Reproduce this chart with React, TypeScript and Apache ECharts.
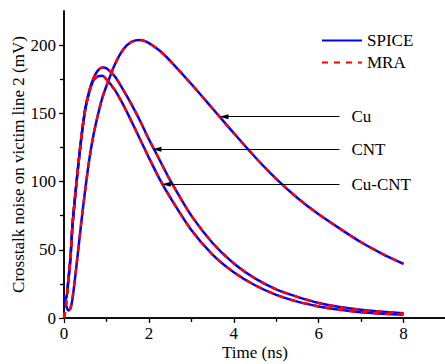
import React, { useEffect, useRef } from "react";
import * as echarts from "echarts";

// Time axis (ns), shared by all curves
const timeNs = [0, 0.05, 0.1, 0.15, 0.2, 0.3, 0.4, 0.5, 0.6, 0.7, 0.8, 0.9, 1.0, 1.2, 1.4, 1.6, 1.8, 2.0, 2.25, 2.5, 3, 3.5, 4, 4.5, 5, 5.5, 6, 6.5, 7, 7.5, 8];

// Crosstalk noise (mV)
const cuSpice = [16, 9, 5.5, 7, 14, 40, 68, 94, 117, 135, 149, 161, 170, 186, 197, 202.5, 203.7, 201.5, 196, 188.5, 171.5, 153.5, 135.5, 118, 102, 88, 76, 65.5, 55.5, 47, 39.6];
const cuMra = [0, 6, 5.5, 7, 14, 40, 68, 94, 117, 135, 149, 161, 170, 186, 197, 202.5, 203.7, 201.5, 196, 188.5, 171.5, 153.5, 135.5, 118, 102, 88, 76, 65.5, 55.5, 47, 39.6];
const cntSpice = [15, 14, 27, 43, 68, 101, 130, 153, 167, 176, 181.5, 183.6, 183, 177, 167, 156, 144, 131, 116, 101, 75, 55, 40, 29, 21, 15.5, 11, 8, 6, 4.5, 3.4];
const cntMra = [0, 10, 27, 43, 68, 101, 130, 153, 167, 176, 181.5, 183.6, 183, 177, 167, 156, 144, 131, 116, 101, 75, 55, 40, 29, 21, 15.5, 11, 8, 6, 4.5, 3.4];
const cuCntSpice = [15, 14, 27, 43, 68, 101, 130, 153, 166, 174.5, 177, 177.5, 175, 167, 156, 143.5, 130.5, 117.5, 102, 88.5, 64.5, 46.5, 33.5, 24, 17, 12, 8.5, 6, 4.3, 3.2, 2.3];
const cuCntMra = [0, 10, 27, 43, 68, 101, 130, 153, 166, 174.5, 177, 177.5, 175, 167, 156, 143.5, 130.5, 117.5, 102, 88.5, 64.5, 46.5, 33.5, 24, 17, 12, 8.5, 6, 4.3, 3.2, 2.3];

// Ticks
const xMajorTicks = [0, 2, 4, 6, 8];
const xMinorTicks = [1, 3, 5, 7];
const xTopTicks = [1, 2, 3, 4, 5, 6, 7, 8];
const yMajorTicks = [0, 50, 100, 150, 200];
const yMinorTicks = [25, 75, 125, 175];
const yRightTicks = [25, 50, 75, 100, 125, 150, 175, 200];

// Annotations
const annotationLabels = ["Cu", "CNT", "Cu-CNT"];
const annotationValues = [147.5, 123.6, 98];
const annotationEnds = [3.77, 2.19, 2.41];
const annotationStart = 6.49;

const FONT = '"Liberation Serif", "Times New Roman", serif';

const pairs = (ys: number[]) => timeNs.map((t, i) => [t, ys[i]]);

export default function App() {
  const ref = useRef<HTMLDivElement>(null);
  useEffect(() => {
    if (!ref.current) return;
    const chart = echarts.init(ref.current, undefined, { renderer: "svg" });
    const blue = "#0000ff";
    const red = "#ff0000";
    const spice = (d: number[]) => ({
      type: "line",
      name: "SPICE",
      data: pairs(d),
      symbol: "none",
      smooth: 0.25,
      lineStyle: { color: blue, width: 2.5 },
      itemStyle: { color: blue },
      z: 2,
    });
    const mra = (d: number[]) => ({
      type: "line",
      name: "MRA",
      data: pairs(d),
      symbol: "none",
      smooth: 0.25,
      lineStyle: { color: red, width: 2.5, type: [6, 6] },
      itemStyle: { color: red },
      z: 3,
    });
    const axisLineStyle = { color: "#000", width: 1.5 };
    const tickStyle = { color: "#000", width: 1.2 };
    chart.setOption({
      animation: false,
      backgroundColor: "#fff",
      textStyle: { fontFamily: FONT, color: "#000" },
      grid: { left: 64, top: 11, width: 382, height: 307, containLabel: false, outerBoundsMode: "none" },
      legend: {
        data: ["SPICE", "MRA"],
        orient: "vertical",
        left: 321,
        top: 32,
        padding: 0,
        itemWidth: 40,
        itemHeight: 14,
        itemGap: 5,
        itemStyle: { opacity: 0 },
        textStyle: { fontSize: 17, color: "#000", fontFamily: FONT },
      },
      xAxis: [
        {
          type: "value",
          position: "bottom",
          min: 0,
          max: 9,
          interval: 1,
          axisLine: { show: true, lineStyle: axisLineStyle },
          axisTick: { show: true, customValues: xMajorTicks, length: 5, lineStyle: tickStyle },
          axisLabel: { customValues: xMajorTicks, fontSize: 17, color: "#000", fontFamily: FONT, margin: 7 },
          splitLine: { show: false },
          name: "Time (ns)",
          nameLocation: "middle",
          nameGap: 26,
          nameMoveOverlap: false,
          nameTextStyle: { fontSize: 17, color: "#000", fontFamily: FONT },
        },
        {
          type: "value",
          position: "bottom",
          min: 0,
          max: 9,
          interval: 1,
          axisLine: { show: false },
          axisTick: { show: true, customValues: xMinorTicks, length: 3, lineStyle: tickStyle },
          axisLabel: { show: false },
          splitLine: { show: false },
        },
        {
          type: "value",
          position: "top",
          min: 0,
          max: 9,
          interval: 1,
          axisLine: { show: true, lineStyle: axisLineStyle },
          axisTick: { show: true, inside: true, customValues: xTopTicks, length: 4, lineStyle: tickStyle },
          axisLabel: { show: false },
          splitLine: { show: false },
        },
      ],
      yAxis: [
        {
          type: "value",
          position: "left",
          min: 0,
          max: 225,
          interval: 25,
          axisLine: { show: true, lineStyle: axisLineStyle },
          axisTick: { show: true, customValues: yMajorTicks, length: 5, lineStyle: tickStyle },
          axisLabel: { customValues: yMajorTicks, fontSize: 17, color: "#000", fontFamily: FONT, margin: 8 },
          splitLine: { show: false },
          name: "Crosstalk noise on victim line 2 (mV)",
          nameLocation: "middle",
          nameGap: 37,
          nameMoveOverlap: false,
          nameTextStyle: { fontSize: 17, color: "#000", fontFamily: FONT },
        },
        {
          type: "value",
          position: "left",
          min: 0,
          max: 225,
          interval: 25,
          axisLine: { show: false },
          axisTick: { show: true, customValues: yMinorTicks, length: 3, lineStyle: tickStyle },
          axisLabel: { show: false },
          splitLine: { show: false },
        },
        {
          type: "value",
          position: "right",
          min: 0,
          max: 225,
          interval: 25,
          axisLine: { show: true, lineStyle: axisLineStyle },
          axisTick: { show: true, inside: true, customValues: yRightTicks, length: 4, lineStyle: tickStyle },
          axisLabel: { show: false },
          splitLine: { show: false },
        },
      ],
      series: [
        spice(cuSpice),
        spice(cntSpice),
        spice(cuCntSpice),
        mra(cuMra),
        mra(cntMra),
        mra(cuCntMra),
        {
          type: "line",
          name: "annotations",
          data: [],
          markLine: {
            silent: true,
            animation: false,
            symbol: ["none", "triangle"],
            symbolSize: [5, 9],
            lineStyle: { color: "#000", width: 1.2, type: "solid" },
            itemStyle: { color: "#000" },
            label: {
              show: true,
              position: "start",
              formatter: "{b}",
              color: "#000",
              fontSize: 17,
              fontFamily: FONT,
              distance: 12,
            },
            data: annotationLabels.map((lab, i) => [
              { name: lab, coord: [annotationStart, annotationValues[i]] },
              { coord: [annotationEnds[i], annotationValues[i]] },
            ]),
          },
        },
      ],
    });
    return () => chart.dispose();
  }, []);
  return (
    <div
      ref={ref}
      style={{ position: "fixed", left: 0, top: 0, width: 445, height: 364, background: "#fff" }}
    />
  );
}
